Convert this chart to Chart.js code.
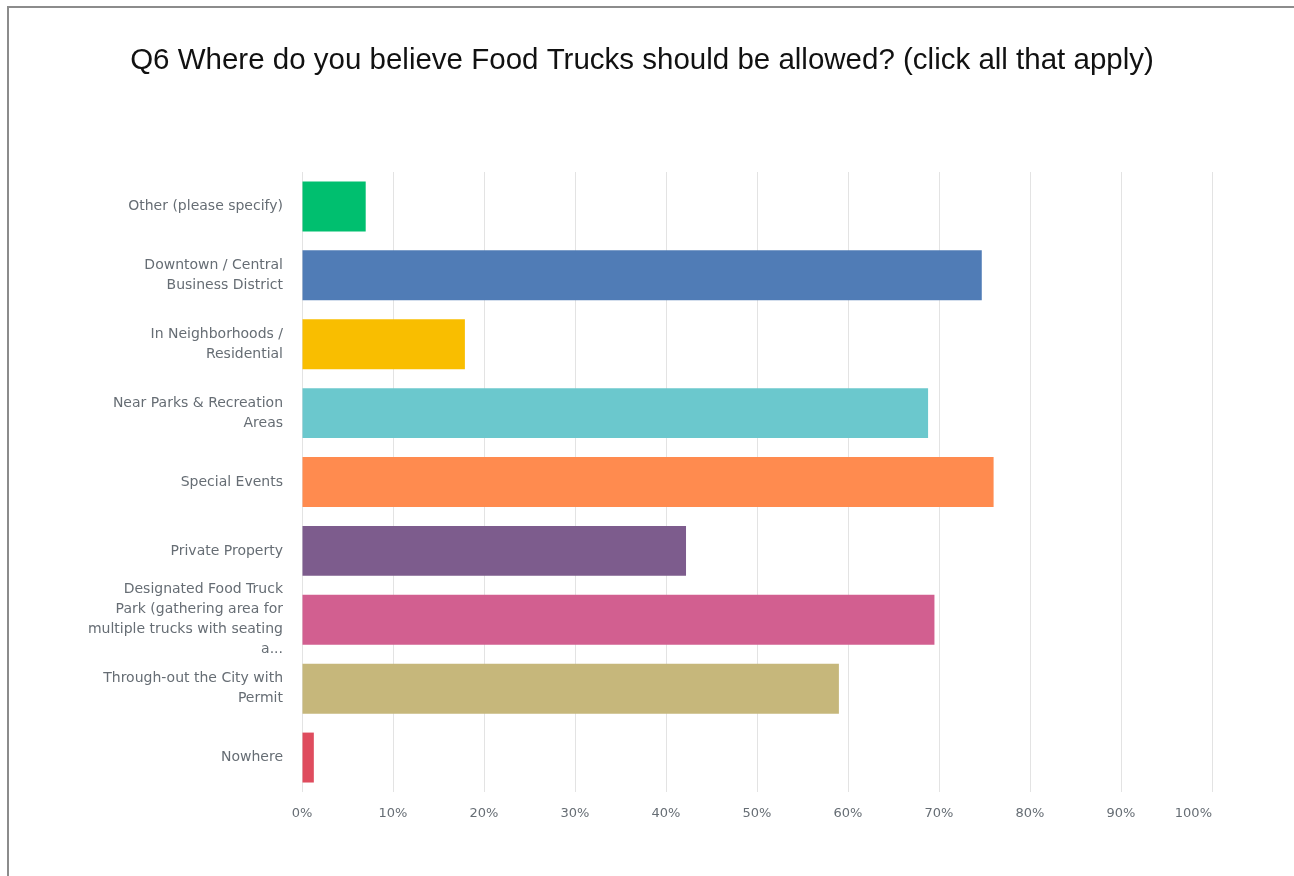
<!DOCTYPE html>
<html>
<head>
<meta charset="utf-8">
<script src="https://cdn.jsdelivr.net/npm/chart.js@4/dist/chart.umd.min.js"></script>
<style>
  html, body { margin: 0; padding: 0; background: #fff; overflow: hidden; }
  #frame {
    position: absolute; left: 7px; top: 6px; width: 1400px; height: 1000px;
    border-left: 2px solid #8c8c8c; border-top: 2px solid #8c8c8c;
  }
  #wrap { position: absolute; left: 0; top: 0; width: 1294px; height: 876px; }
</style>
</head>
<body>
<div id="frame"></div>
<div id="wrap"><canvas id="myChart"></canvas></div>
<script>
// 응답 항목 (위에서 아래 순서)
const categories = [
  'Other (please specify)',
  ['Downtown / Central', 'Business District'],
  ['In Neighborhoods /', 'Residential'],
  ['Near Parks & Recreation', 'Areas'],
  'Special Events',
  'Private Property',
  ['Designated Food Truck', 'Park (gathering area for', 'multiple trucks with seating', 'a...'],
  ['Through-out the City with', 'Permit'],
  'Nowhere',
];

// 응답 비율 (%)
const percents = [7.0, 74.7, 17.9, 68.8, 76.0, 42.2, 69.5, 59.0, 1.3];

const barColors = [
  '#00bf6f', '#507cb6', '#f9be00', '#6bc8cd', '#ff8b4f',
  '#7d5c8d', '#d25f90', '#c6b77b', '#df4c5e',
];

// x축 눈금
const xTicks = [0, 10, 20, 30, 40, 50, 60, 70, 80, 90, 100];

const labelColor = '#666d74';
const labelFont = { family: 'DejaVu Sans', size: 14, lineHeight: 1.43 };

const data = {
  labels: categories,
  datasets: [
    {
      data: percents,
      backgroundColor: barColors,
      borderWidth: 0,
      barPercentage: 0.725,
      categoryPercentage: 1,
    },
  ],
};

const config = {
  type: 'bar',
  data: data,
  options: {
    indexAxis: 'y',
    responsive: true,
    maintainAspectRatio: false,
    animation: false,
    layout: { padding: { left: 72, right: 82, top: 0, bottom: 40 } },
    plugins: {
      legend: { display: false },
      tooltip: { enabled: false },
      title: {
        display: true,
        text: 'Q6 Where do you believe Food Trucks should be allowed? (click all that apply)',
        color: '#111',
        font: { family: 'Liberation Sans', size: 29.5, weight: 'normal', lineHeight: 1.2 },
        padding: { top: 43.5, bottom: 93.1 },
      },
    },
    scales: {
      x: {
        min: 0,
        max: 100,
        afterBuildTicks: (scale) => {
          scale.ticks = xTicks.map((v) => ({ value: v }));
        },
        afterFit: (scale) => { scale.height = 44; },
        grid: { color: '#e3e3e3', drawTicks: false },
        border: { display: false },
        ticks: {
          color: labelColor,
          font: { family: 'DejaVu Sans', size: 13 },
          padding: 14,
          maxRotation: 0,
          // 100% 라벨은 왼쪽으로 조금 밀려 있음
          callback: (v) => (v === 100 ? '100%\u00a0\u00a0\u00a0\u00a0\u00a0\u00a0\u00a0\u00a0\u00a0' : v + '%'),
        },
      },
      y: {
        afterFit: (scale) => { scale.width = 230; },
        grid: { display: false },
        border: { display: false },
        ticks: {
          color: labelColor,
          font: labelFont,
          padding: 11,
          autoSkip: false,
        },
      },
    },
  },
};

const myChart = new Chart(document.getElementById('myChart'), config);
</script>
</body>
</html>
